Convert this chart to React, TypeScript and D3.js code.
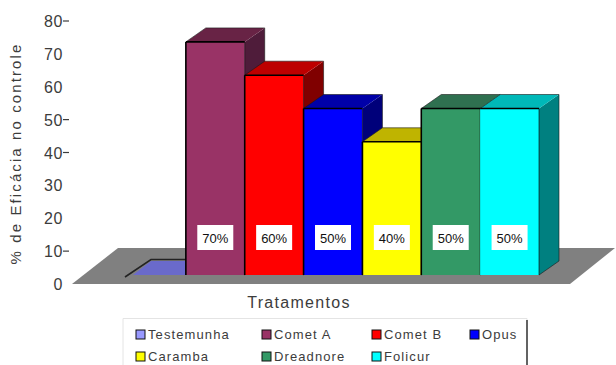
import React from "react";
import * as d3 from "d3";

const categories = ["Testemunha", "Comet A", "Comet B", "Opus", "Caramba", "Dreadnore", "Folicur"];
const efficacy = [0, 70, 60, 50, 40, 50, 50];
const valueLabels = ["", "70%", "60%", "50%", "40%", "50%", "50%"];
const frontColors = ["#6a6acb", "#993366", "#ff0000", "#0000ff", "#ffff00", "#339966", "#00ffff"];
const topColors = ["#6a6acb", "#682345", "#bd0000", "#0000a8", "#bfb400", "#2f7050", "#00b8b8"];
const sideColors = ["#4d4d99", "#4f1c3a", "#800000", "#00007a", "#807800", "#24583f", "#008080"];
const legendSwatches = ["#9999ff", "#993366", "#ff0000", "#0000ff", "#ffff00", "#339966", "#00ffff"];
const axisTicks = [0, 10, 20, 30, 40, 50, 60, 70, 80];
const dashedTicks = [10, 40, 50, 80];

const W = 616;
const H = 365;
const DEPTH_X = 20;
const DEPTH_Y = 14;
const FONT = "'Liberation Sans', Arial, sans-serif";
const INK = "#3c3c3c";

const x = d3.scaleBand<string>().domain(categories).range([127, 539]).padding(0);
const y = d3.scaleLinear().domain([0, 80]).range([275, 8.6]);
const axisY = d3.scaleLinear().domain([0, 80]).range([284, 21]);

const poly = (pts: [number, number][]) => d3.line()(pts) + "Z";

export default function App() {
  const bw = x.bandwidth();
  const legendCols = [136, 262, 372, 470];
  const legendRows = [335, 357];

  return (
    <svg
      width={W}
      height={H}
      viewBox={`0 0 ${W} ${H}`}
      style={{ position: "absolute", left: 0, top: 0, background: "#fff" }}
    >
      {/* chart floor */}
      <path d={poly([[72, 284], [118, 248], [615, 248], [570, 284]])} fill="#808080" />

      {/* 3D columns, painted left to right so each front covers its neighbour's side */}
      {categories.map((c, i) => {
        const x0 = x(c)!;
        const x1 = x0 + bw;
        const top = y(efficacy[i]);
        const base = y(0);
        const v = efficacy[i];
        const sameAsPrev = i > 0 && efficacy[i - 1] === v;
        if (v === 0) {
          return (
            <g key={c}>
              <path d={poly([[x0 + 6, base], [x0 + 24, top - DEPTH_Y], [x1, top - DEPTH_Y], [x1, base]])} fill={frontColors[i]} />
              <path
                d={d3.line()([[x0 - 2, base + 2], [x0 + 24, top - DEPTH_Y - 1.5], [x1, top - DEPTH_Y - 1.5]])!}
                fill="none"
                stroke="#222"
                strokeWidth={1.6}
              />
            </g>
          );
        }
        return (
          <g key={c}>
            <path d={poly([[x1, top], [x1 + DEPTH_X, top - DEPTH_Y], [x1 + DEPTH_X, base - DEPTH_Y], [x1, base]])} fill={sideColors[i]} />
            <path d={poly([[x0, top], [x0 + DEPTH_X, top - DEPTH_Y], [x1 + DEPTH_X, top - DEPTH_Y], [x1, top]])} fill={topColors[i]} />
            <rect x={x0} y={top} width={bw} height={base - top} fill={frontColors[i]} />
            <path
              d={d3.line()([[x0, top], [x0 + DEPTH_X, top - DEPTH_Y], [x1 + DEPTH_X, top - DEPTH_Y], [x1 + DEPTH_X, base - DEPTH_Y], [x1, base]])!}
              fill="none"
              stroke="#1a1a1a"
              strokeWidth={0.6}
            />
            <line x1={x0} x2={x1} y1={top} y2={top} stroke="#000" strokeWidth={1.6} />
            {!sameAsPrev && <line x1={x0} x2={x0} y1={top} y2={base} stroke="#000" strokeWidth={1.6} />}
            <line x1={x1} x2={x1} y1={top} y2={base} stroke="#000" strokeWidth={0.6} />
          </g>
        );
      })}

      {/* value labels on white plates */}
      {categories.map((c, i) =>
        valueLabels[i] ? (
          <g key={c}>
            <rect x={x(c)! + bw / 2 - 18} y={225} width={36} height={25} fill="#fff" />
            <text
              x={x(c)! + bw / 2}
              y={243}
              textAnchor="middle"
              fontFamily={FONT}
              fontSize={13}
              fill="#111"
            >
              {valueLabels[i]}
            </text>
          </g>
        ) : null
      )}

      {/* value axis: labels only, a few with a tick dash */}
      {axisTicks.map((t) => (
        <g key={t}>
          <text
            x={63}
            y={axisY(t) + 6}
            textAnchor="end"
            fontFamily={FONT}
            fontSize={16}
            letterSpacing={0.6}
            fill={INK}
          >
            {t}
          </text>
          {dashedTicks.includes(t) && (
            <line x1={63} x2={69} y1={axisY(t)} y2={axisY(t)} stroke={INK} strokeWidth={1.2} />
          )}
        </g>
      ))}

      <text
        transform="translate(21,153.5) rotate(-90)"
        textAnchor="middle"
        fontFamily={FONT}
        fontSize={15}
        letterSpacing={2.1}
        fill={INK}
      >
        % de Eficácia no controle
      </text>

      <text
        x={299}
        y={308}
        textAnchor="middle"
        fontFamily={FONT}
        fontSize={16}
        letterSpacing={1.3}
        fill={INK}
      >
        Tratamentos
      </text>

      {/* legend frame, open at the bottom edge of the canvas */}
      <path d={`M123,365V318.5H527V365`} fill="none" stroke="#e4e4e4" strokeWidth={1} />
      <line x1={527} x2={527} y1={320} y2={365} stroke="#333" strokeWidth={1.5} />
      {categories.map((c, i) => {
        const lx = legendCols[i % 4];
        const ly = legendRows[i < 4 ? 0 : 1];
        return (
          <g key={c}>
            <rect x={lx} y={ly - 5} width={9} height={9} fill={legendSwatches[i]} stroke="#111" strokeWidth={1} />
            <text x={lx + 12} y={ly + 4} fontFamily={FONT} fontSize={13} letterSpacing={1.1} fill={INK}>
              {c}
            </text>
          </g>
        );
      })}
    </svg>
  );
}
